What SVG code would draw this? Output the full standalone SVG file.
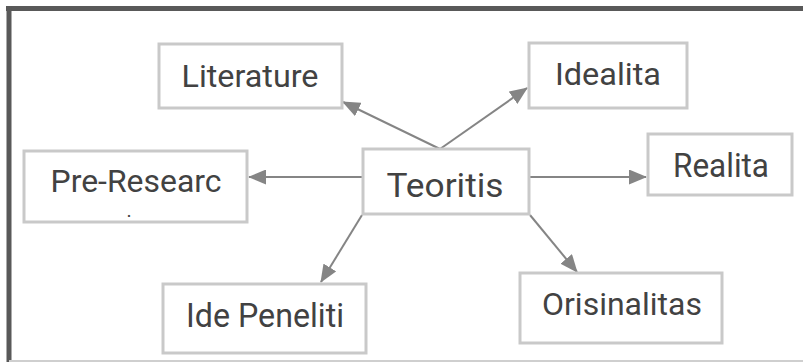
<svg xmlns="http://www.w3.org/2000/svg" width="803" height="362" viewBox="0 0 803 362">
  <defs>
    <marker id="arrow" viewBox="0 0 18 15" refX="17" refY="7.5" markerWidth="18" markerHeight="15" markerUnits="userSpaceOnUse" orient="auto">
      <path d="M0,0 L18,7.5 L0,15 Z" fill="#858585"/>
    </marker>
  </defs>
  <style>
    .box { fill: #ffffff; stroke: #c9c9c9; stroke-width: 3; }
    .label { font-family: Roboto, "Liberation Sans", sans-serif; font-size: 32px; fill: #424242; text-anchor: middle; }
    .link { stroke: #858585; stroke-width: 2; fill: none; marker-end: url(#arrow); }
  </style>

  <rect x="0" y="0" width="803" height="362" fill="#ffffff"/>

  <!-- frame -->
  <g id="frame">
    <line x1="6" y1="8.5" x2="803" y2="8.5" stroke="#595959" stroke-width="5"/>
    <line x1="9" y1="6" x2="9" y2="362" stroke="#595959" stroke-width="5"/>
    <line x1="9" y1="361" x2="803" y2="361" stroke="#cfcfcf" stroke-width="2"/>
  </g>

  <!-- connectors -->
  <g id="connectors">
    <line class="link" x1="440" y1="149" x2="343" y2="102"/>
    <line class="link" x1="440" y1="149" x2="527" y2="88"/>
    <line class="link" x1="530" y1="177" x2="646" y2="177"/>
    <line class="link" x1="362" y1="177" x2="249" y2="177"/>
    <line class="link" x1="362" y1="215" x2="321" y2="282"/>
    <line class="link" x1="530" y1="215" x2="577" y2="272"/>
  </g>

  <g id="literature">
    <rect class="box" x="159" y="44" width="183" height="64"/>
    <text class="label" x="250" y="87" textLength="137" lengthAdjust="spacingAndGlyphs">Literature</text>
  </g>

  <g id="idealita">
    <rect class="box" x="529" y="43" width="158" height="65"/>
    <text class="label" x="608" y="85" textLength="106" lengthAdjust="spacingAndGlyphs">Idealita</text>
  </g>

  <g id="realita">
    <rect class="box" x="648" y="134" width="144" height="61"/>
    <text class="label" x="721" y="177" style="font-size:33px" textLength="96" lengthAdjust="spacingAndGlyphs">Realita</text>
  </g>

  <g id="pre-research">
    <rect class="box" x="24" y="151" width="223" height="71"/>
    <text class="label" x="136" y="192" textLength="171" lengthAdjust="spacingAndGlyphs">Pre-Researc</text>
    <text class="label" x="129" y="217" style="font-size:14px;font-weight:bold">.</text>
  </g>

  <g id="teoritis">
    <rect class="box" x="363" y="149" width="166" height="65"/>
    <text class="label" x="445" y="197" style="font-size:34px" textLength="117" lengthAdjust="spacingAndGlyphs">Teoritis</text>
  </g>

  <g id="ide-peneliti">
    <rect class="box" x="163" y="284" width="203" height="69"/>
    <text class="label" x="265" y="327" style="font-size:33px" textLength="158" lengthAdjust="spacingAndGlyphs">Ide Peneliti</text>
  </g>

  <g id="orisinalitas">
    <rect class="box" x="520" y="273" width="202" height="70"/>
    <text class="label" x="622" y="315" style="font-size:31px" textLength="160" lengthAdjust="spacingAndGlyphs">Orisinalitas</text>
  </g>
</svg>
